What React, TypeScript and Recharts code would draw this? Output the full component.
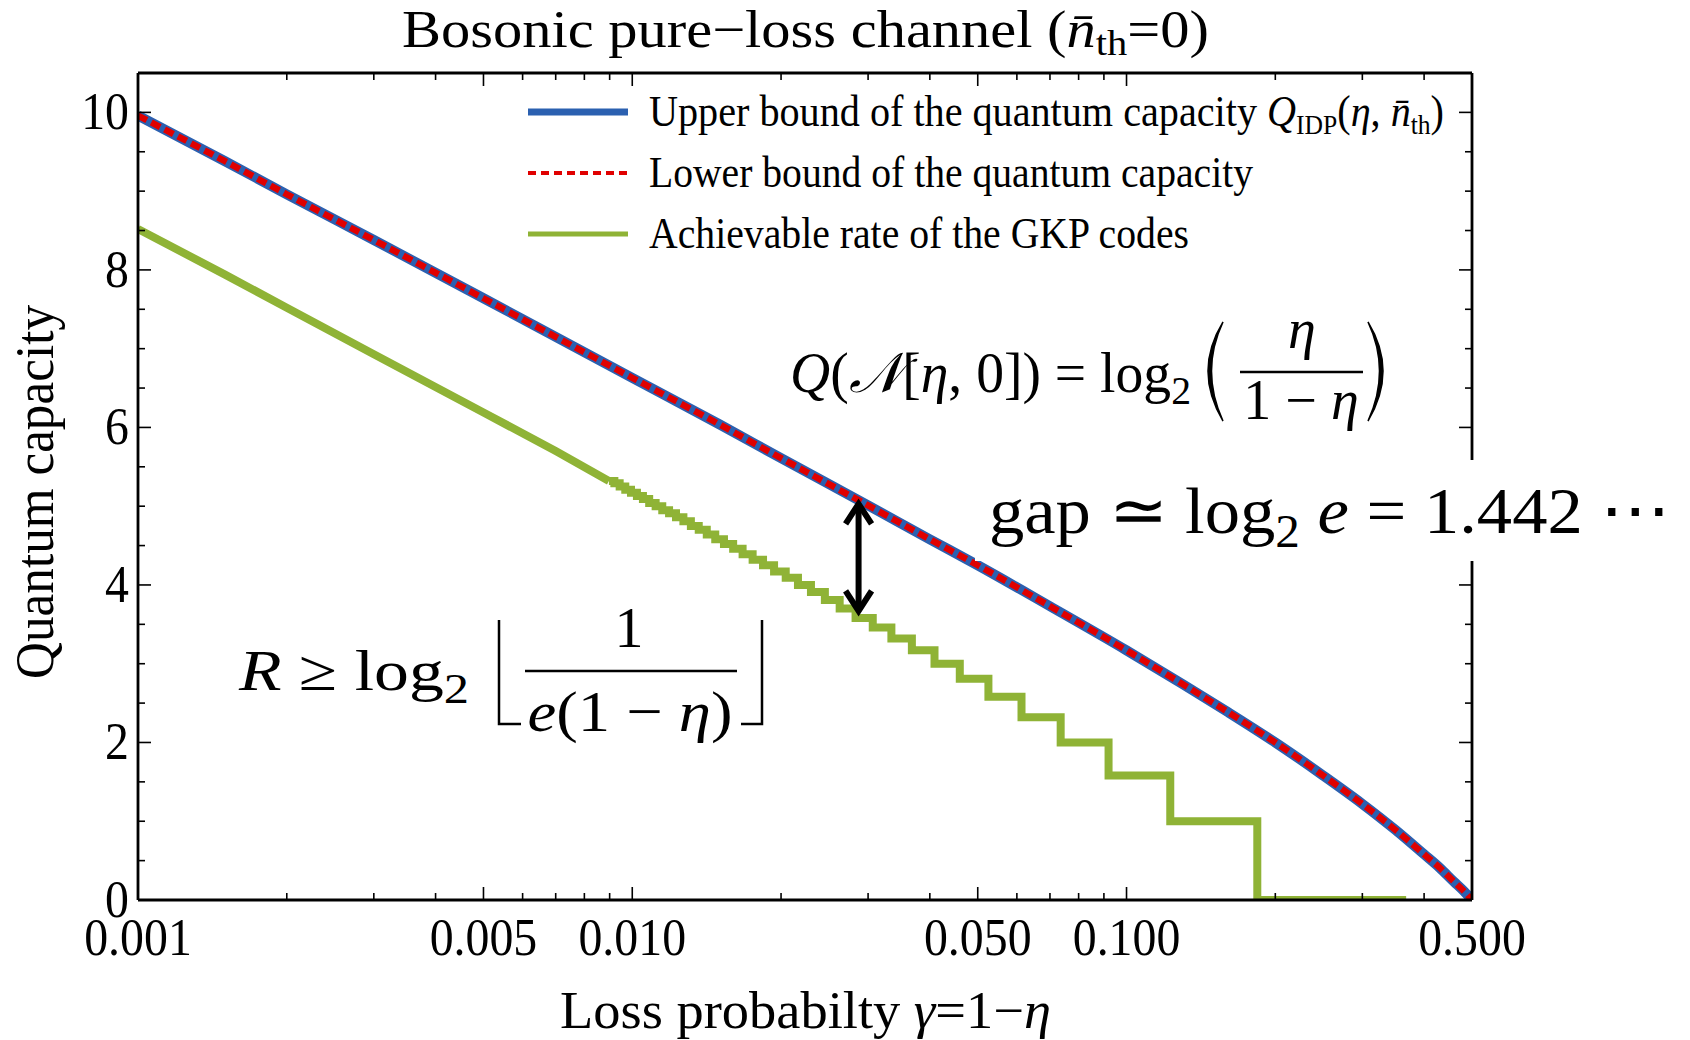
import React from 'react';
import { LineChart, Line, XAxis, YAxis, ReferenceLine, Legend } from 'recharts';

// loss probability gamma = 1 - eta, and the two capacity bounds
const gamma = [0.001, 0.0015, 0.002, 0.003, 0.005, 0.007, 0.01, 0.015, 0.02, 0.03, 0.04, 0.05, 0.07, 0.1, 0.13, 0.16, 0.2, 0.25, 0.3, 0.35, 0.4, 0.43, 0.46, 0.48, 0.5];
const upperBound = [9.96, 9.38, 8.96, 8.38, 7.64, 7.15, 6.63, 6.04, 5.61, 5.01, 4.58, 4.25, 3.73, 3.17, 2.74, 2.39, 2.0, 1.58, 1.22, 0.89, 0.58, 0.41, 0.23, 0.12, 0];
const lowerBound = [9.96, 9.38, 8.96, 8.38, 7.64, 7.15, 6.63, 6.04, 5.61, 5.01, 4.58, 4.25, 3.73, 3.17, 2.74, 2.39, 2.0, 1.58, 1.22, 0.89, 0.58, 0.41, 0.23, 0.12, 0];

// GKP achievable rate: fine part (steps too small to see) and visible steps
const gkpGammaFine = [0.001, 0.0015, 0.002, 0.003, 0.005, 0.007, 0.00897];
const gkpRateFine = [8.52, 7.94, 7.52, 6.93, 6.19, 5.70, 5.32];
const gkpGammaSteps = [
  0.00897, 0.0092, 0.00943, 0.00968, 0.00994, 0.01022, 0.01051, 0.01082, 0.01115, 0.0115,
  0.01187, 0.01226, 0.01269, 0.01314, 0.01363, 0.01415, 0.01472, 0.01533, 0.016, 0.01672,
  0.01752, 0.01839, 0.01936, 0.02044, 0.02164, 0.02299, 0.02453, 0.02628, 0.0283, 0.03066,
  0.03344, 0.03679, 0.04088, 0.04599, 0.05255, 0.06131, 0.07358, 0.09197, 0.1226, 0.1839, 0.3679,
];
const gkpRateSteps = [
  5.32, 5.29, 5.25, 5.21, 5.17, 5.13, 5.09, 5.04, 5.0, 4.95,
  4.91, 4.86, 4.81, 4.75, 4.7, 4.64, 4.58, 4.52, 4.46, 4.39,
  4.32, 4.25, 4.17, 4.09, 4.0, 3.91, 3.81, 3.7, 3.58, 3.46,
  3.32, 3.17, 3.0, 2.81, 2.58, 2.32, 2.0, 1.58, 1.0, 0, 0,
];

const xMajor = [0.001, 0.005, 0.01, 0.05, 0.1, 0.5];
const xMajorLabels = ['0.001', '0.005', '0.010', '0.050', '0.100', '0.500'];
const xMinor = [0.002, 0.003, 0.004, 0.006, 0.007, 0.008, 0.009, 0.02, 0.03, 0.04, 0.06, 0.07, 0.08, 0.09, 0.2, 0.3, 0.4];
const yMajor = [0, 2, 4, 6, 8, 10];
const yMinor = [0.5, 1, 1.5, 2.5, 3, 3.5, 4.5, 5, 5.5, 6.5, 7, 7.5, 8.5, 9, 9.5];

// gap arrow between the two curves
const gapGamma = 0.0287;
const gapTop = 5.08;
const gapBottom = 3.62;

const boundData = gamma.map((g, i) => ({ g, upper: upperBound[i], lower: lowerBound[i] }));
const gkpFine = gkpGammaFine.map((g, i) => ({ g, r: gkpRateFine[i] }));
const gkpSteps = gkpGammaSteps.map((g, i) => ({ g, r: gkpRateSteps[i] }));

const SERIF = '"Liberation Serif", "Times New Roman", serif';
const BLUE = '#2b60b0';
const RED = '#e00000';
const GREEN = '#8fb336';

const xTicks = [...xMajor, ...xMinor].sort((a, b) => a - b);
const yTicks = [...yMajor, ...yMinor].sort((a, b) => a - b);

const renderXTick = (p: any, side: 'bottom' | 'top') => {
  const v = p.payload.value;
  const mi = xMajor.indexOf(v);
  const len = mi >= 0 ? 13 : 7;
  const dir = side === 'bottom' ? -1 : 1;
  return (
    <g>
      <line x1={p.x} x2={p.x} y1={p.y} y2={p.y + dir * len} stroke="#000" strokeWidth={1.6} />
      {side === 'bottom' && mi >= 0 && (
        <text transform={`translate(${p.x},${p.y + 55}) scale(0.92,1)`} textAnchor="middle" fontFamily={SERIF} fontSize={52} fill="#000">
          {xMajorLabels[mi]}
        </text>
      )}
    </g>
  );
};

const renderYTick = (p: any, side: 'left' | 'right') => {
  const v = p.payload.value;
  const major = yMajor.includes(v);
  const len = major ? 13 : 7;
  const dir = side === 'left' ? 1 : -1;
  return (
    <g>
      <line x1={p.x} x2={p.x + dir * len} y1={p.y} y2={p.y} stroke="#000" strokeWidth={1.6} />
      {side === 'left' && major && (
        <text transform={`translate(${p.x - 9},${p.y + 17}) scale(0.92,1)`} textAnchor="end" fontFamily={SERIF} fontSize={52} fill="#000">
          {v}
        </text>
      )}
    </g>
  );
};

const GapArrow = (p: any) => {
  const x = p.x1;
  const top = Math.min(p.y1, p.y2);
  const bot = Math.max(p.y1, p.y2);
  return (
    <g stroke="#000" strokeWidth={6} fill="none" strokeLinejoin="miter">
      <line x1={x} x2={x} y1={top + 4} y2={bot - 4} />
      <polyline points={`${x - 13},${top + 24} ${x},${top + 4} ${x + 13},${top + 24}`} />
      <polyline points={`${x - 13},${bot - 24} ${x},${bot - 4} ${x + 13},${bot - 24}`} />
    </g>
  );
};

const LegendBox = () => (
  <svg width={960} height={180} style={{ overflow: 'visible' }}>
    <g fontFamily={SERIF} fill="#000">
      <line x1={8} x2={108} y1={32} y2={32} stroke={BLUE} strokeWidth={7} />
      <text x={129} y={46} fontSize={44} textLength={795} lengthAdjust="spacingAndGlyphs">
        Upper bound of the quantum capacity <tspan fontStyle="italic">Q</tspan>
        <tspan fontSize={28} dy={8}>IDP</tspan>
        <tspan dy={-8}>(</tspan>
        <tspan fontStyle="italic">η</tspan>, <tspan fontStyle="italic">n̄</tspan>
        <tspan fontSize={28} dy={8}>th</tspan>
        <tspan dy={-8}>)</tspan>
      </text>
      <line x1={8} x2={108} y1={93} y2={93} stroke={RED} strokeWidth={4} strokeDasharray="8 5" />
      <text x={129} y={107} fontSize={44} textLength={604} lengthAdjust="spacingAndGlyphs">
        Lower bound of the quantum capacity
      </text>
      <line x1={8} x2={108} y1={154} y2={154} stroke={GREEN} strokeWidth={5} />
      <text x={129} y={168} fontSize={44} textLength={540} lengthAdjust="spacingAndGlyphs">
        Achievable rate of the GKP codes
      </text>
    </g>
  </svg>
);

const Overlay = () => (
  <svg width={1690} height={1040} style={{ position: 'absolute', left: 0, top: 0, pointerEvents: 'none' }}>
    <g fontFamily={SERIF} fill="#000">
      {/* title */}
      <text x={402} y={47} fontSize={52} textLength={807} lengthAdjust="spacingAndGlyphs">
        Bosonic pure−loss channel (<tspan fontStyle="italic">n̄</tspan>
        <tspan fontSize={36} dy={8}>th</tspan>
        <tspan dy={-8}>=0)</tspan>
      </text>
      {/* axis labels */}
      <text transform="translate(53,492) rotate(-90)" textAnchor="middle" fontSize={55} textLength={374} lengthAdjust="spacingAndGlyphs">
        Quantum capacity
      </text>
      <text x={560} y={1028} fontSize={52} textLength={491} lengthAdjust="spacingAndGlyphs">
        Loss probabilty <tspan fontStyle="italic">γ</tspan>=1−<tspan fontStyle="italic">η</tspan>
      </text>

      {/* Q(N[eta,0]) = log2( eta / (1-eta) ) */}
      <text x={790} y={392} fontSize={56} textLength={401} lengthAdjust="spacingAndGlyphs">
        <tspan fontStyle="italic">Q</tspan>(<tspan fontStyle="italic">𝒩</tspan>[<tspan fontStyle="italic">η</tspan>, 0]) = log
        <tspan fontSize={40} dy={12}>2</tspan>
      </text>
      <path d="M1223,322 Q1193,371 1223,421 Q1200,371 1223,322 Z" stroke="#000" strokeWidth={1.5} />
      <text x={1302} y={348} fontSize={56} textAnchor="middle" fontStyle="italic">η</text>
      <line x1={1240} x2={1363} y1={372} y2={372} stroke="#000" strokeWidth={2.5} />
      <text x={1301} y={419} fontSize={56} textAnchor="middle">
        1 − <tspan fontStyle="italic">η</tspan>
      </text>
      <path d="M1368,322 Q1398,371 1368,421 Q1391,371 1368,322 Z" stroke="#000" strokeWidth={1.5} />

      {/* gap label with white backing */}
      <rect x={975} y={460} width={715} height={101} fill="#fff" />
      <text x={989} y={533} fontSize={66} textLength={682} lengthAdjust="spacingAndGlyphs">
        gap ≃ log<tspan fontSize={46} dy={14}>2</tspan>
        <tspan dy={-14}> </tspan>
        <tspan fontStyle="italic">e</tspan> = 1.442 ⋯
      </text>

      {/* R >= log2 floor( 1 / e(1-eta) ) */}
      <text x={239} y={690} fontSize={58} textLength={230} lengthAdjust="spacingAndGlyphs">
        <tspan fontStyle="italic">R</tspan> ≥ log<tspan fontSize={42} dy={13}>2</tspan>
      </text>
      <polyline points="499,620 499,724 521,724" fill="none" stroke="#000" strokeWidth={2.5} />
      <text x={629} y={647} fontSize={58} textAnchor="middle">1</text>
      <line x1={525} x2={737} y1={671} y2={671} stroke="#000" strokeWidth={2.5} />
      <text x={630} y={731} fontSize={58} textAnchor="middle" textLength={205} lengthAdjust="spacingAndGlyphs">
        <tspan fontStyle="italic">e</tspan>(1 − <tspan fontStyle="italic">η</tspan>)
      </text>
      <polyline points="741,724 762,724 762,620" fill="none" stroke="#000" strokeWidth={2.5} />
    </g>
  </svg>
);

const axisLine = { stroke: '#000', strokeWidth: 2.8 };

export default function App() {
  return (
    <div style={{ position: 'absolute', left: 0, top: 0, width: 1690, height: 1040, background: '#fff' }}>
      <LineChart width={1690} height={1040} data={boundData} margin={{ top: 53, right: 198, bottom: 80, left: 38 }}>
        <XAxis
          xAxisId="b"
          dataKey="g"
          type="number"
          scale="log"
          domain={[0.001, 0.5]}
          allowDataOverflow
          ticks={xTicks}
          interval={0}
          height={60}
          tickSize={0}
          tickMargin={0}
          tickLine={false}
          axisLine={axisLine}
          tick={(p: any) => renderXTick(p, 'bottom')}
        />
        <XAxis
          xAxisId="t"
          orientation="top"
          dataKey="g"
          type="number"
          scale="log"
          domain={[0.001, 0.5]}
          allowDataOverflow
          ticks={xTicks}
          interval={0}
          height={20}
          tickSize={0}
          tickMargin={0}
          tickLine={false}
          axisLine={axisLine}
          tick={(p: any) => renderXTick(p, 'top')}
        />
        <YAxis
          yAxisId="l"
          type="number"
          domain={[0, 10.5]}
          allowDataOverflow
          ticks={yTicks}
          interval={0}
          width={100}
          tickSize={0}
          tickMargin={0}
          tickLine={false}
          axisLine={axisLine}
          tick={(p: any) => renderYTick(p, 'left')}
        />
        <YAxis
          yAxisId="r"
          orientation="right"
          type="number"
          domain={[0, 10.5]}
          allowDataOverflow
          ticks={yTicks}
          interval={0}
          width={20}
          tickSize={0}
          tickMargin={0}
          tickLine={false}
          axisLine={axisLine}
          tick={(p: any) => renderYTick(p, 'right')}
        />
        <Legend
          layout="vertical"
          align="center"
          verticalAlign="middle"
          wrapperStyle={{ position: 'absolute', left: 520, top: 80, width: 960, height: 180 }}
          content={() => <LegendBox />}
        />
        <Line xAxisId="b" yAxisId="l" data={gkpFine} dataKey="r" type="linear" stroke={GREEN} strokeWidth={8} dot={false} isAnimationActive={false} />
        <Line xAxisId="b" yAxisId="l" data={gkpSteps} dataKey="r" type="stepAfter" stroke={GREEN} strokeWidth={8} dot={false} isAnimationActive={false} />
        <Line xAxisId="b" yAxisId="l" dataKey="upper" type="monotone" stroke={BLUE} strokeWidth={10} dot={false} isAnimationActive={false} />
        <Line xAxisId="t" yAxisId="r" dataKey="lower" type="monotone" stroke={RED} strokeWidth={6.5} strokeDasharray="10 5" dot={false} isAnimationActive={false} />
        <ReferenceLine
          xAxisId="b"
          yAxisId="l"
          segment={[{ x: gapGamma, y: gapTop }, { x: gapGamma, y: gapBottom }]}
          shape={(p: any) => <GapArrow {...p} />}
        />
      </LineChart>
      <Overlay />
    </div>
  );
}
